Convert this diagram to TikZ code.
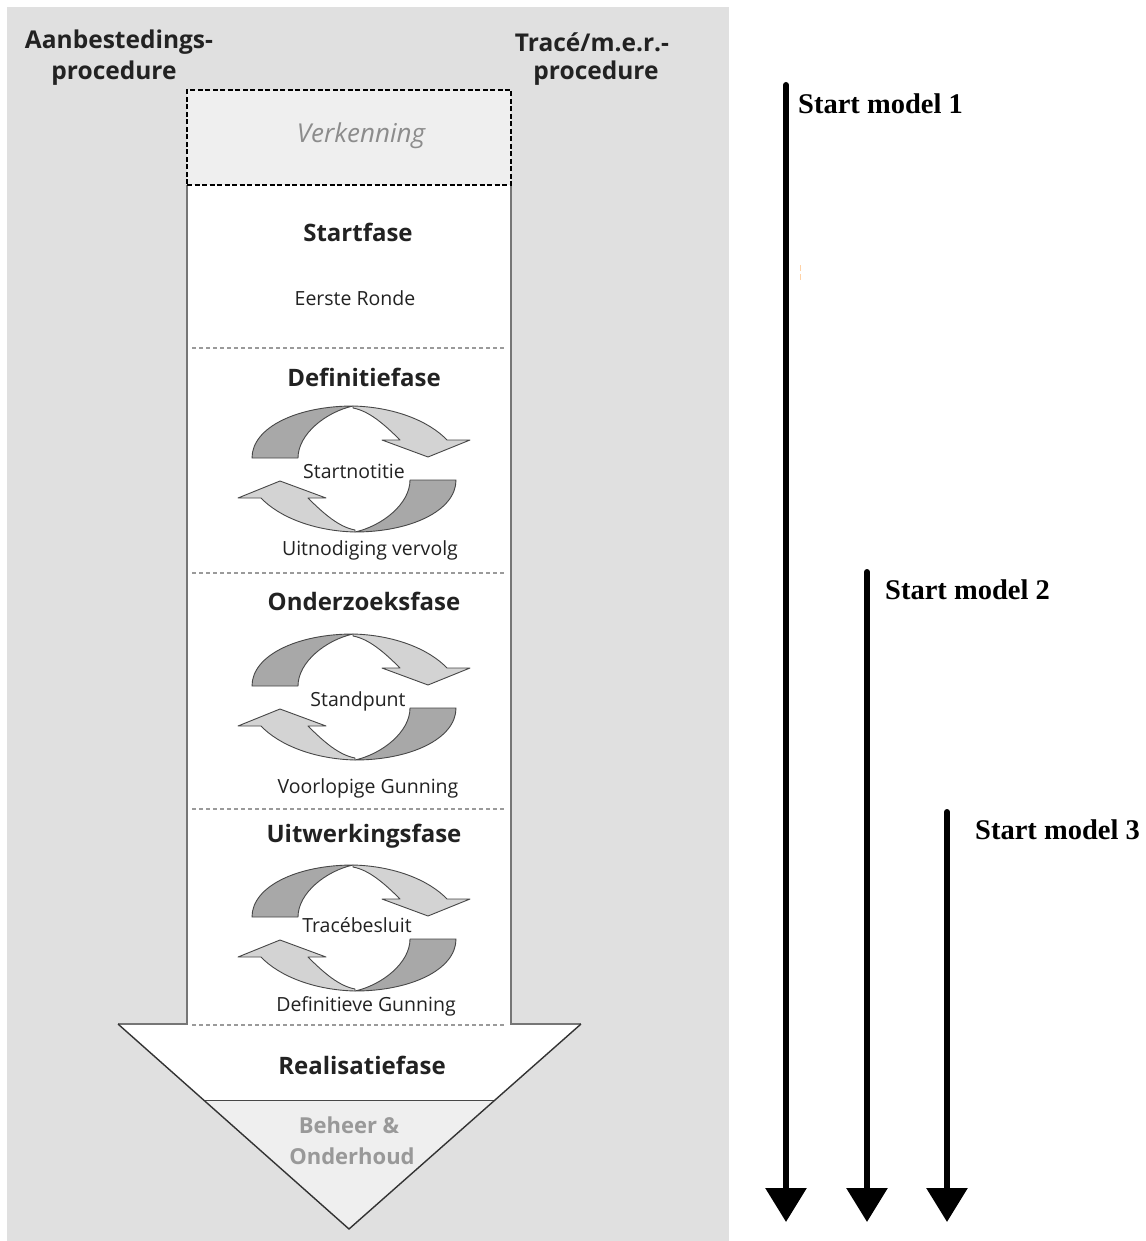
\documentclass[tikz,border=0pt]{standalone}
\usepackage{fontspec}
\setmainfont{Open Sans}
\newfontfamily\timesfont{Liberation Serif}
\usetikzlibrary{arrows.meta}
\definecolor{bg}{HTML}{E0E0E0}
\definecolor{paleg}{HTML}{EFEFEF}
\definecolor{darkg}{HTML}{A8A8A8}
\definecolor{lightg}{HTML}{D3D3D3}
\definecolor{edgeg}{HTML}{474747}
\definecolor{txt}{HTML}{222222}
\definecolor{shaftg}{HTML}{767676}
\definecolor{sepg}{HTML}{9A9A9A}
\tikzset{
  hdr/.style={font=\bfseries\fontsize{24.5}{29}\selectfont, text=txt, inner sep=0pt},
  phase/.style={font=\bfseries\fontsize{24}{28}\selectfont, text=txt, inner sep=0pt},
  sublabel/.style={font=\fontsize{19.5}{23}\selectfont, text=txt, inner sep=0pt},
  sepline/.style={draw=sepg, line width=1.2pt, dash pattern=on 4pt off 3pt},
  verkbox/.style={draw=black, line width=2pt, dash pattern=on 5pt off 2.5pt, fill=paleg,
    minimum width=324pt, minimum height=95pt, inner sep=0pt},
  verktext/.style={font=\itshape\fontsize{26}{30}\selectfont, text=black!45, inner sep=0pt},
  beheertext/.style={font=\bfseries\fontsize{22}{26}\selectfont, text=black!40, inner sep=0pt},
  modeltext/.style={font=\timesfont\bfseries\fontsize{28.5}{32}\selectfont, text=black, anchor=west, inner sep=0pt},
  bigarrow/.style={line width=6pt, draw=black, -{Triangle[width=40pt,length=34pt]}},
  cycpart/.style={draw=edgeg, line width=0.9pt, line join=round},
  cycarrow/.pic={
    \draw[cycpart, fill=darkg] (-102,-11) .. controls (-102,-42) and (-56,-63) .. (-1,-63)
      .. controls (-28,-57) and (-56,-35) .. (-56,-11) -- cycle;
    \draw[cycpart, fill=lightg] (-1,-63) .. controls (40,-62) and (75,-48) .. (93,-29)
      -- (116,-29) -- (74,-12) -- (28,-29) -- (46,-29)
      .. controls (30,-45) and (15,-58) .. (-1,-61) -- cycle;
  }
}
\begin{document}
\begin{tikzpicture}[x=1pt,y=-1pt]
\useasboundingbox (0,0) rectangle (1145,1241);
% background panel
\fill[bg] (7,7) rectangle (729,1241);
% big arrow body
\fill[white] (187,185) -- (187,1024) -- (118,1024) -- (349,1229) -- (581,1024) -- (511,1024) -- (511,185) -- cycle;
\fill[paleg] (204,1100) -- (495,1100) -- (349,1229) -- cycle;
\draw[edgeg, line width=0.9pt] (204,1100) -- (495,1100);
\draw[shaftg, line width=1.8pt] (187,185) -- (187,1024) -- (118,1024);
\draw[shaftg, line width=1.8pt] (511,185) -- (511,1024) -- (581,1024);
\draw[black!80, line width=1.4pt, line join=round] (118,1024) -- (349,1229) -- (581,1024);
% Verkenning
\node[verkbox] (verk) at (349,137.5) {};
\node[verktext] (verkt) at (361,136) {Verkenning};
% separators
\draw[sepline] (192,348) -- (506,348);
\draw[sepline] (192,573) -- (506,573);
\draw[sepline] (192,809) -- (506,809);
\draw[sepline] (192,1025) -- (506,1025);
% cycles
\pic at (354,469) {cycarrow};
\pic[rotate=180] at (354,469) {cycarrow};
\pic at (354,697) {cycarrow};
\pic[rotate=180] at (354,697) {cycarrow};
\pic at (354,928) {cycarrow};
\pic[rotate=180] at (354,928) {cycarrow};
% headers
\node[hdr] (h1a) at (119,42) {Aanbestedings-};
\node[hdr] (h1b) at (114,73) {procedure};
\node[hdr] (h2a) at (592,42) {Tracé/m.e.r.-};
\node[hdr] (h2b) at (596,73) {procedure};
% phases
\node[phase] (p1) at (358,232) {Startfase};
\node[sublabel] (s1) at (355,298) {Eerste Ronde};
\node[phase] (p2) at (364,377) {Definitiefase};
\node[sublabel] (s2a) at (354,471) {Startnotitie};
\node[sublabel] (s2b) at (370,550) {Uitnodiging vervolg};
\node[phase] (p3) at (364,601) {Onderzoeksfase};
\node[sublabel] (s3a) at (358,701) {Standpunt};
\node[sublabel] (s3b) at (368,788) {Voorlopige Gunning};
\node[phase] (p4) at (364,836) {Uitwerkingsfase};
\node[sublabel] (s4a) at (357,925) {Tracébesluit};
\node[sublabel] (s4b) at (366,1006) {Definitieve Gunning};
\node[phase] (p5) at (362,1065) {Realisatiefase};
\node[beheertext] (b1) at (349,1125) {Beheer \&};
\node[beheertext] (b2) at (352,1156) {Onderhoud};
% start model arrows
\coordinate (m1s) at (786,85);
\coordinate (m1e) at (786,1222);
\coordinate (m2s) at (867,572);
\coordinate (m2e) at (867,1222);
\coordinate (m3s) at (947,812);
\coordinate (m3e) at (947,1222);
\draw[bigarrow, line cap=round] (m1s) -- (m1e);
\draw[bigarrow, line cap=round] (m2s) -- (m2e);
\draw[bigarrow, line cap=round] (m3s) -- (m3e);
\node[modeltext] (t1) at (798,104) {Start model 1};
\node[modeltext] (t2) at (885,590) {Start model 2};
\node[modeltext] (t3) at (975,830) {Start model 3};
\draw[orange!35, line width=1pt, dash pattern=on 6pt off 3pt] (800,265) -- (800,281);
\end{tikzpicture}
\end{document}
